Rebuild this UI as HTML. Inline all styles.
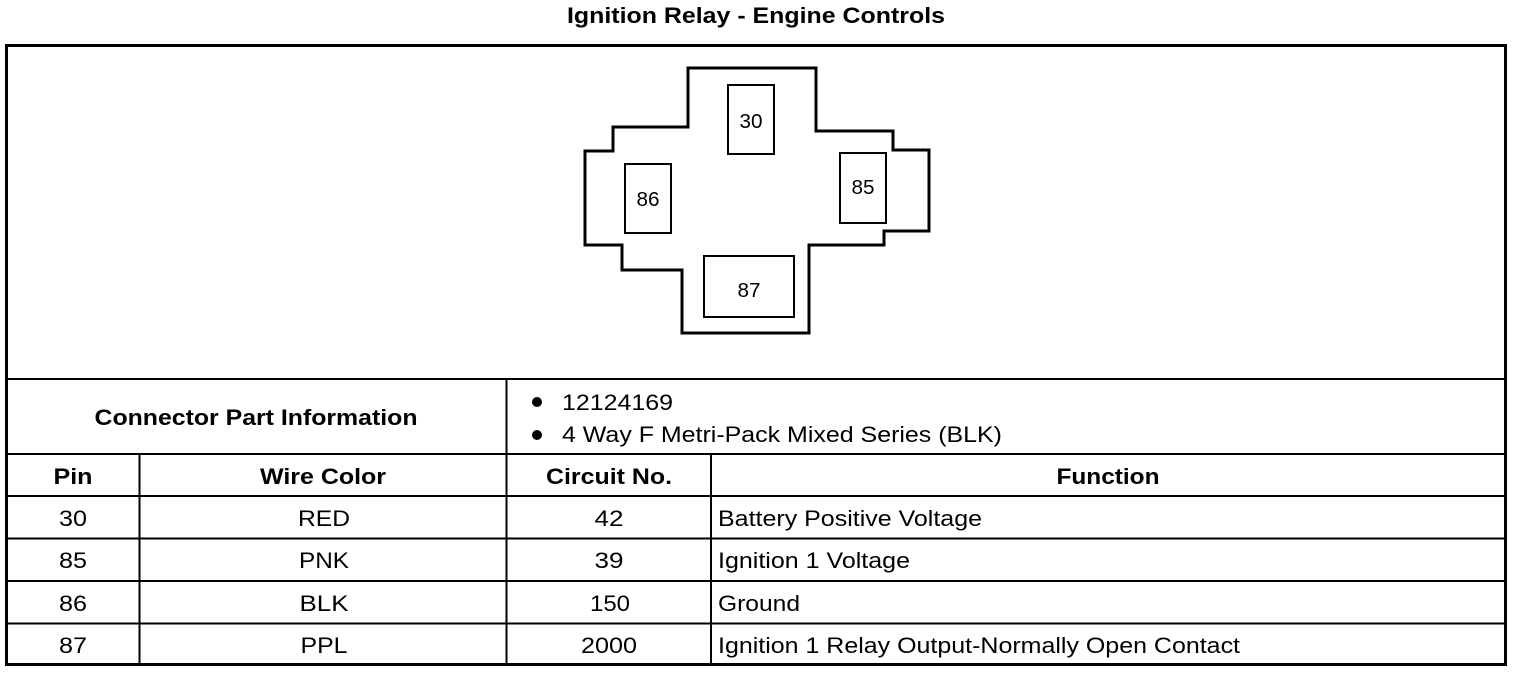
<!DOCTYPE html>
<html><head><meta charset="utf-8"><style>html,body{margin:0;padding:0;background:#fff}svg{display:block}</style></head>
<body>
<svg width="1520" height="674" viewBox="0 0 1520 674" xmlns="http://www.w3.org/2000/svg" font-family="Liberation Sans, sans-serif" fill="#000">
<text x="756" y="23" font-size="22" font-weight="bold" text-anchor="middle" textLength="378" lengthAdjust="spacingAndGlyphs">Ignition Relay - Engine Controls</text>
<rect x="6.5" y="45.5" width="1499" height="619" fill="none" stroke="#000" stroke-width="3"/>
<g stroke="#000" stroke-width="2">
<line x1="6" y1="379" x2="1506" y2="379"/>
<line x1="6" y1="454" x2="1506" y2="454"/>
<line x1="6" y1="496" x2="1506" y2="496"/>
<line x1="6" y1="538.5" x2="1506" y2="538.5"/>
<line x1="6" y1="581" x2="1506" y2="581"/>
<line x1="6" y1="623.5" x2="1506" y2="623.5"/>
<line x1="506.5" y1="379" x2="506.5" y2="665"/>
<line x1="139.5" y1="454" x2="139.5" y2="665"/>
<line x1="711" y1="454" x2="711" y2="665"/>
</g>
<polygon points="688,68 816,68 816,131 893,131 893,150 929,150 929,231 884,231 884,245 809,245 809,333 682,333 682,270 622,270 622,245 585,245 585,151 613,151 613,127 688,127" fill="none" stroke="#000" stroke-width="3"/>
<g fill="none" stroke="#000" stroke-width="2">
<rect x="728" y="85" width="46" height="69"/>
<rect x="625" y="164" width="46" height="69"/>
<rect x="840" y="153" width="46" height="70"/>
<rect x="704" y="256" width="90" height="61"/>
</g>
<g font-size="20" text-anchor="middle">
<text x="751" y="128" textLength="23" lengthAdjust="spacingAndGlyphs">30</text>
<text x="648" y="206" textLength="23" lengthAdjust="spacingAndGlyphs">86</text>
<text x="863" y="194" textLength="23" lengthAdjust="spacingAndGlyphs">85</text>
<text x="749" y="297" textLength="23" lengthAdjust="spacingAndGlyphs">87</text>
</g>
<g font-size="22" font-weight="bold" text-anchor="middle">
<text x="256" y="425" textLength="323" lengthAdjust="spacingAndGlyphs">Connector Part Information</text>
<text x="73" y="484" textLength="39" lengthAdjust="spacingAndGlyphs">Pin</text>
<text x="323" y="484" textLength="126" lengthAdjust="spacingAndGlyphs">Wire Color</text>
<text x="609" y="484" textLength="126" lengthAdjust="spacingAndGlyphs">Circuit No.</text>
<text x="1108" y="484" textLength="103" lengthAdjust="spacingAndGlyphs">Function</text>
</g>
<g font-size="22">
<circle cx="537" cy="402" r="5"/>
<circle cx="537" cy="435" r="5"/>
<text x="562" y="410" textLength="111" lengthAdjust="spacingAndGlyphs">12124169</text>
<text x="562" y="442" textLength="440" lengthAdjust="spacingAndGlyphs">4 Way F Metri-Pack Mixed Series (BLK)</text>
<g text-anchor="middle">
<text x="73" y="526" textLength="28" lengthAdjust="spacingAndGlyphs">30</text><text x="324" y="526" textLength="52" lengthAdjust="spacingAndGlyphs">RED</text><text x="609" y="526" textLength="29" lengthAdjust="spacingAndGlyphs">42</text>
<text x="73" y="568" textLength="28" lengthAdjust="spacingAndGlyphs">85</text><text x="324" y="568" textLength="50" lengthAdjust="spacingAndGlyphs">PNK</text><text x="609" y="568" textLength="29" lengthAdjust="spacingAndGlyphs">39</text>
<text x="73" y="611" textLength="28" lengthAdjust="spacingAndGlyphs">86</text><text x="324" y="611" textLength="49" lengthAdjust="spacingAndGlyphs">BLK</text><text x="610" y="611" textLength="40" lengthAdjust="spacingAndGlyphs">150</text>
<text x="73" y="653" textLength="28" lengthAdjust="spacingAndGlyphs">87</text><text x="324" y="653" textLength="47" lengthAdjust="spacingAndGlyphs">PPL</text><text x="609" y="653" textLength="56" lengthAdjust="spacingAndGlyphs">2000</text>
</g>
<text x="718" y="526" textLength="264" lengthAdjust="spacingAndGlyphs">Battery Positive Voltage</text>
<text x="718" y="568" textLength="192" lengthAdjust="spacingAndGlyphs">Ignition 1 Voltage</text>
<text x="718" y="611" textLength="82" lengthAdjust="spacingAndGlyphs">Ground</text>
<text x="718" y="653" textLength="522" lengthAdjust="spacingAndGlyphs">Ignition 1 Relay Output-Normally Open Contact</text>
</g>
</svg>
</body></html>
